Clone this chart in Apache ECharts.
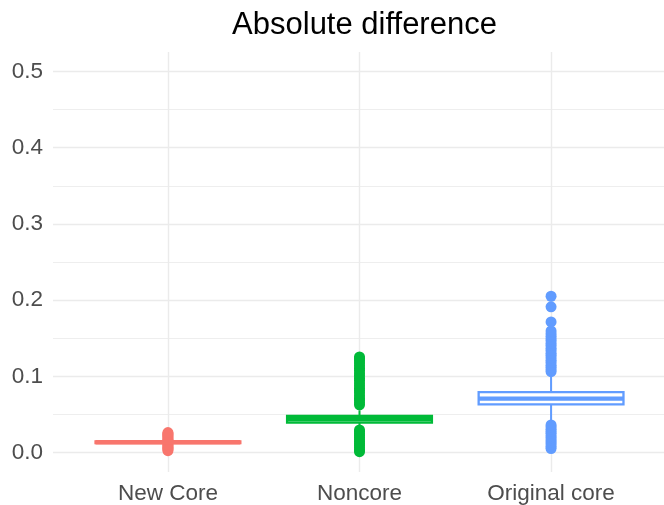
<!DOCTYPE html>
<html>
<head>
<meta charset="utf-8">
<script src="https://cdn.jsdelivr.net/npm/echarts@6/dist/echarts.min.js"></script>
<style>
  html, body { margin: 0; padding: 0; background: #ffffff; }
  #chart { width: 664px; height: 505px; }
</style>
</head>
<body>
<div id="chart"></div>
<script>
// ---- data ----
const categories = ['New Core', 'Noncore', 'Original core'];

// [lower whisker, Q1, median, Q3, upper whisker]
const newCoreStats  = [0.0125, 0.0125, 0.0137, 0.0149, 0.0149];
const noncoreStats  = [0.0337, 0.0395, 0.0438, 0.0482, 0.0556];
const originalStats = [0.0410, 0.0633, 0.0709, 0.0794, 0.1005];

const newCoreOutliers = [0.0026, 0.0041, 0.0057, 0.0072, 0.0088, 0.0101, 0.0116,
  0.0161, 0.0177, 0.0193, 0.0208, 0.0224, 0.0238, 0.0251, 0.0264];
const noncoreOutliers = [0.0013, 0.0037, 0.0064, 0.0091, 0.0118, 0.0142, 0.0171,
  0.0196, 0.0224, 0.0249, 0.0277, 0.0298,
  0.0628, 0.0655, 0.0690, 0.0712, 0.0748, 0.0785, 0.0817, 0.0842, 0.0879, 0.0915,
  0.0951, 0.0978, 0.1014, 0.1046, 0.1083, 0.1109, 0.1142, 0.1175, 0.1207, 0.1233, 0.1256];
const originalOutliers = [0.0055, 0.0082, 0.0113, 0.0139, 0.0168, 0.0197, 0.0221,
  0.0254, 0.0279, 0.0306, 0.0338, 0.0364,
  0.1062, 0.1089, 0.1121, 0.1148, 0.1183, 0.1214, 0.1246, 0.1279, 0.1306, 0.1342,
  0.1371, 0.1405, 0.1433, 0.1467, 0.1494, 0.1528, 0.1559, 0.1597, 0.1715, 0.1913, 0.2052];

const yMin = 0, yMax = 0.5, yStep = 0.1;

// ---- styling ----
const FONT = '"Liberation Sans", Arial, Helvetica, sans-serif';
const colors = ['#F8766D', '#00BA38', '#619CFF'];
const GRID_COLOR = '#EBEBEB';
const TEXT_COLOR = '#4D4D4D';

// The discrete axis is laid out on a fine slot grid so that the panel
// extends 0.6 of a category step beyond the first and last categories.
const SLOTS_PER_STEP = 5;
const PAD_SLOTS = 3;
const BOX_SLOTS = 3.78;     // box width measured in slots
const slotOf = categories.map((_, i) => PAD_SLOTS + i * SLOTS_PER_STEP);
const slotCount = PAD_SLOTS * 2 + (categories.length - 1) * SLOTS_PER_STEP + 1;
const slotNames = [];
for (let s = 0; s < slotCount; s++) {
  const ci = slotOf.indexOf(s);
  slotNames.push(ci >= 0 ? categories[ci] : 'slot' + s);
}
const isCategorySlot = (idx) => slotOf.indexOf(idx) >= 0;

const allStats = [newCoreStats, noncoreStats, originalStats];
const allOutliers = [newCoreOutliers, noncoreOutliers, originalOutliers];

const boxData = allStats.map((st, i) => [slotOf[i], st[0], st[1], st[2], st[3], st[4], i]);

function renderBox(params, api) {
  const x = api.value(0);
  const c = colors[api.value(6)];
  const half = api.size([1, 0])[0] * BOX_SLOTS / 2;
  const pLo = api.coord([x, api.value(1)]);
  const yQ1 = api.coord([x, api.value(2)])[1];
  const yMed = api.coord([x, api.value(3)])[1];
  const yQ3 = api.coord([x, api.value(4)])[1];
  const yHi = api.coord([x, api.value(5)])[1];
  const cx = pLo[0];
  return {
    type: 'group',
    children: [
      { type: 'line', shape: { x1: cx, y1: yHi, x2: cx, y2: yQ3 }, style: { stroke: c, lineWidth: 2 } },
      { type: 'line', shape: { x1: cx, y1: yQ1, x2: cx, y2: pLo[1] }, style: { stroke: c, lineWidth: 2 } },
      { type: 'rect', shape: { x: cx - half, y: yQ3, width: half * 2, height: yQ1 - yQ3 },
        style: { fill: '#ffffff', stroke: c, lineWidth: 2.3 } },
      { type: 'line', shape: { x1: cx - half, y1: yMed, x2: cx + half, y2: yMed },
        style: { stroke: c, lineWidth: 4.4 } }
    ]
  };
}

const scatterSeries = allOutliers.map((vals, i) => ({
  type: 'scatter',
  xAxisIndex: 0,
  yAxisIndex: 0,
  clip: false,
  symbol: 'circle',
  symbolSize: 11,
  itemStyle: { color: colors[i], opacity: 1 },
  emphasis: { disabled: true },
  data: vals.map(v => [slotOf[i], v]),
  z: 2
}));

const chart = echarts.init(document.getElementById('chart'), null, { renderer: 'canvas' });

chart.setOption({
  animation: false,
  backgroundColor: '#ffffff',
  textStyle: { fontFamily: FONT },
  title: {
    text: 'Absolute difference',
    left: 359.5,
    top: 4.5,
    textAlign: 'center',
    textStyle: { fontFamily: FONT, fontSize: 31, fontWeight: 'normal', color: '#000000' }
  },
  grid: [
    // data panel, spanning 0 .. 0.5
    { left: 53, right: -2, top: 71.5, bottom: 52.3, outerBoundsMode: 'none', containLabel: false },
    // full panel height, carries the category gridlines and labels
    { left: 53, right: -2, top: 52, bottom: 33, outerBoundsMode: 'none', containLabel: false }
  ],
  xAxis: [
    {
      gridIndex: 0, type: 'category', data: slotNames, boundaryGap: false, show: false
    },
    {
      gridIndex: 1, type: 'category', data: slotNames, boundaryGap: false,
      axisLine: { show: false }, axisTick: { show: false },
      axisLabel: {
        interval: (idx) => isCategorySlot(idx),
        fontFamily: FONT, fontSize: 22.5, color: TEXT_COLOR, margin: 10
      },
      splitLine: {
        show: true,
        interval: (idx) => isCategorySlot(idx),
        lineStyle: { color: GRID_COLOR, width: 1.4 }
      }
    }
  ],
  yAxis: [
    {
      gridIndex: 0, type: 'value', min: yMin, max: yMax, interval: yStep,
      axisLine: { show: false }, axisTick: { show: false },
      axisLabel: {
        formatter: (v) => v.toFixed(1),
        fontFamily: FONT, fontSize: 22.5, color: TEXT_COLOR, margin: 10
      },
      splitLine: { show: true, lineStyle: { color: GRID_COLOR, width: 1.4 } },
      minorTick: { show: false, splitNumber: 2 },
      minorSplitLine: { show: true, lineStyle: { color: '#EEEEEE', width: 1.1 } }
    },
    { gridIndex: 1, type: 'value', show: false }
  ],
  series: [
    ...scatterSeries,
    {
      type: 'custom',
      xAxisIndex: 0,
      yAxisIndex: 0,
      renderItem: renderBox,
      encode: { x: 0, y: [1, 2, 3, 4, 5] },
      data: boxData,
      z: 3
    }
  ]
});
</script>
</body>
</html>
